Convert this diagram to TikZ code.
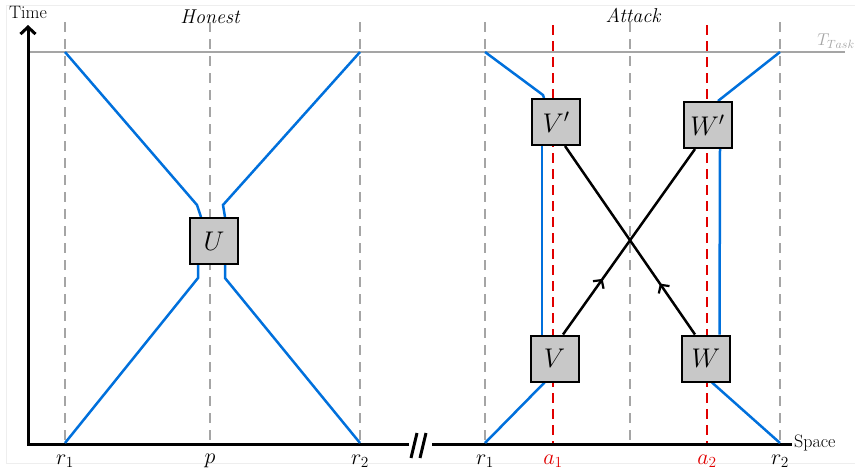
\RequirePackage{fix-cm}
\documentclass[tikz,border=0pt]{standalone}
\usetikzlibrary{arrows.meta,decorations.markings}
\definecolor{lineblue}{RGB}{0,112,220}
\definecolor{dgray}{RGB}{165,165,165}
\definecolor{dred}{RGB}{225,0,0}
\definecolor{boxgray}{RGB}{200,200,200}
\definecolor{framegray}{RGB}{238,238,238}
\begin{document}
\begin{tikzpicture}[x=1pt,y=-1pt,
  bl/.style={draw=lineblue,line width=2.5pt},
  blk/.style={draw=black,line width=2.5pt},
  gdash/.style={draw=dgray,line width=2pt,dash pattern=on 10pt off 7pt},
  rdash/.style={draw=dred,line width=2.5pt,dash pattern=on 10pt off 6pt},
  box/.style={draw=black,line width=2pt,fill=boxgray,minimum width=48pt,minimum height=46pt,inner sep=0pt,font=\fontsize{27}{30}\selectfont},
  axisline/.style={draw=black,line width=3pt},
  lab/.style={font=\fontsize{22}{25}\selectfont},
  axlab/.style={font=\fontsize{18}{20}\selectfont,inner sep=1pt},
  midarrow/.style={postaction={decorate},decoration={markings,mark=at position #1 with {\arrow{Straight Barb[length=6pt,width=13pt,line width=2.2pt]}}}}
]
\useasboundingbox (0,0) rectangle (855,472);
% faint frame
\draw[framegray,line width=1pt] (855,5) -- (6,5) -- (6,463) -- (855,463);

% T_Task line
\coordinate (tl) at (28,52);
\coordinate (tr) at (845,52);
\draw[dgray,line width=2.5pt] (tl) -- (tr);

% dashed guide lines
\foreach \x/\n in {65/g1,210/g2,360/g3,485/g4,630/g5,780/g6}{
  \coordinate (\n t) at (\x,22);
  \coordinate (\n b) at (\x,443);
  \draw[gdash] (\n t) -- (\n b);
}
\coordinate (a1t) at (553,25); \coordinate (a1b) at (553,443);
\coordinate (a2t) at (707,25); \coordinate (a2b) at (707,443);
\draw[rdash] (a1t) -- (a1b);
\draw[rdash] (a2t) -- (a2b);

% axes
\coordinate (origin) at (28,444);
\coordinate (ytop) at (28,25);
\coordinate (xbreakL) at (409,444);
\coordinate (xbreakR) at (432,444);
\coordinate (xend) at (792,444);
\draw[axisline,-{Straight Barb[length=7pt,width=15pt,line width=3pt]}] (xbreakL) -- (origin) -- (ytop);
\draw[axisline] (xbreakR) -- (xend);
\coordinate (s1a) at (411,458); \coordinate (s1b) at (417,433);
\coordinate (s2a) at (420,458); \coordinate (s2b) at (426,433);
\draw[black,line width=3pt] (s1a) -- (s1b);
\draw[black,line width=3pt] (s2a) -- (s2b);

% boxes
\node[box] (U) at (214,241) {$U$};
\node[box] (Vp) at (556,122) {$V'$};
\node[box] (Wp) at (707.5,125) {$W'$};
\node[box] (V) at (554.5,358.5) {$V$};
\node[box] (W) at (706,358.5) {$W$};

% honest blue lines
\coordinate (h1) at (65,52);
\coordinate (h2) at (360,52);
\coordinate (h3) at (65,443);
\coordinate (h4) at (360,443);
\draw[bl] (h1) -- (197,205) -- ([xshift=-13pt]U.north);
\draw[bl] (h2) -- (223,205) -- ([xshift=11pt]U.north);
\draw[bl] ([xshift=-16pt]U.south) -- (198,278) -- (h3);
\draw[bl] ([xshift=11pt]U.south) -- (225,278) -- (h4);

% attack blue lines
\coordinate (k1) at (485,52);
\coordinate (k2) at (780,52);
\coordinate (k3) at (485,443);
\coordinate (k4) at (780,443);
\draw[bl] (k1) -- (543,95) -- ([xshift=-12pt]Vp.north);
\draw[bl] ([xshift=-14pt]Vp.south) -- ([xshift=-12.5pt]V.north);
\draw[bl] ([xshift=-10pt]V.south) -- (k3);
\draw[bl] (k2) -- ([xshift=10.5pt]Wp.north);
\draw[bl] ([xshift=12.5pt]Wp.south) -- ([xshift=13.5pt]W.north);
\draw[bl] ([xshift=6pt]W.south) -- (k4);

% black crossing lines
\draw[blk,midarrow=0.3] ([xshift=8.5pt]V.north) -- ([xshift=-12.5pt]Wp.south);
\draw[blk,midarrow=0.27] ([xshift=-11pt]W.north) -- ([xshift=9pt]Vp.south);

% redraw boxes on top
\node[box] at (U) {$U$};
\node[box] at (Vp) {$V'$};
\node[box] at (Wp) {$W'$};
\node[box] at (V) {$V$};
\node[box] at (W) {$W$};

% labels
\node[axlab] (time) at (28,12) {Time};
\node[axlab,anchor=west] (space) at (793,443) {Space};
\node[font=\fontsize{20}{22}\selectfont\itshape] (honest) at (210,17) {Honest};
\node[font=\fontsize{20}{22}\selectfont\itshape] (attack) at (633,15) {Attack};
\node[font=\fontsize{17}{20}\selectfont,text=dgray] (ttask) at (836,41) {$T_{Task}$};
\node[lab] (lr1) at (65,461) {$r_1$};
\node[lab] (lp) at (210,461) {$p$};
\node[lab] (lr2) at (360,461) {$r_2$};
\node[lab] (rr1) at (485,461) {$r_1$};
\node[lab,text=dred] (la1) at (553,461) {$a_1$};
\node[lab,text=dred] (la2) at (707,461) {$a_2$};
\node[lab] (rr2) at (780,461) {$r_2$};
\end{tikzpicture}
\end{document}
